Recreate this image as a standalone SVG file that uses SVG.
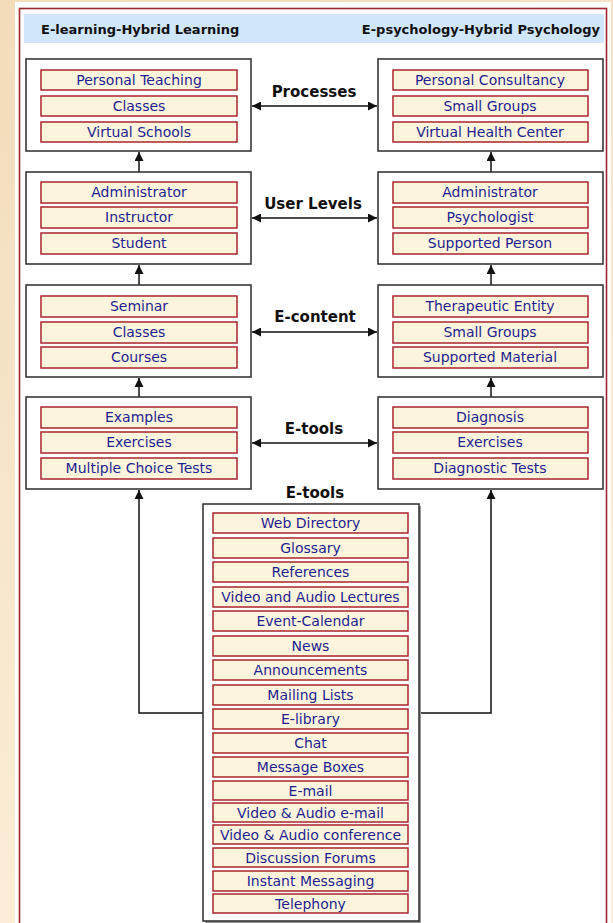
<svg xmlns="http://www.w3.org/2000/svg" width="613" height="923" viewBox="0 0 613 923">
  <defs>
    <linearGradient id="paper" x1="0" y1="0" x2="0.3" y2="1">
      <stop offset="0" stop-color="#f2dcba"/>
      <stop offset="0.5" stop-color="#f7e6cb"/>
      <stop offset="1" stop-color="#fcefd9"/>
    </linearGradient>
    <marker id="arrow" viewBox="0 0 10 10" refX="10" refY="5" markerWidth="9" markerHeight="9" markerUnits="userSpaceOnUse" orient="auto-start-reverse">
      <path d="M0,0 L10,5 L0,10 z" fill="#111"/>
    </marker>
    <style>
      .panel { fill: #2b2b2b; }
      .box { fill: #ffffff; stroke: #2b2b2b; stroke-width: 1.5; }
      .shadow { fill: #9a9a9a; }
      .item { fill: #fdf4dd; stroke: #a8262c; stroke-width: 1.5; }
      .itxt { font-family: "DejaVu Sans", Verdana, sans-serif; font-size: 14px; fill: #1f1f8f; text-anchor: middle; }
      .head { font-family: "DejaVu Sans", Verdana, sans-serif; font-size: 13px; font-weight: bold; fill: #111; }
      .lbl { font-family: "DejaVu Sans", Verdana, sans-serif; font-size: 15px; font-weight: bold; fill: #111; text-anchor: middle; }
      .link { fill: none; stroke: #111; stroke-width: 1.5; }
    </style>
  </defs>

  <!-- page background -->
  <rect x="0" y="0" width="613" height="923" fill="url(#paper)"/>
  <rect x="15" y="2" width="596" height="925" fill="#ffffff"/>
  <rect x="19.5" y="8.5" width="587" height="930" fill="none" stroke="#a2262e" stroke-width="1.6"/>

  <!-- header band -->
  <g id="header">
    <rect x="24" y="14" width="580" height="29" fill="#cfe6fb"/>
    <text class="head" x="41" y="34">E-learning-Hybrid Learning</text>
    <text class="head" x="600" y="34" text-anchor="end">E-psychology-Hybrid Psychology</text>
  </g>

  <!-- connectors -->
  <g id="connectors">
    <line class="link" x1="252" y1="106" x2="377" y2="106" marker-start="url(#arrow)" marker-end="url(#arrow)"/>
    <line class="link" x1="252" y1="218" x2="377" y2="218" marker-start="url(#arrow)" marker-end="url(#arrow)"/>
    <line class="link" x1="252" y1="332" x2="377" y2="332" marker-start="url(#arrow)" marker-end="url(#arrow)"/>
    <line class="link" x1="252" y1="443" x2="377" y2="443" marker-start="url(#arrow)" marker-end="url(#arrow)"/>

    <line class="link" x1="139" y1="172" x2="139" y2="152" marker-end="url(#arrow)"/>
    <line class="link" x1="139" y1="285" x2="139" y2="265" marker-end="url(#arrow)"/>
    <line class="link" x1="139" y1="397" x2="139" y2="378" marker-end="url(#arrow)"/>
    <line class="link" x1="491" y1="172" x2="491" y2="152" marker-end="url(#arrow)"/>
    <line class="link" x1="491" y1="285" x2="491" y2="265" marker-end="url(#arrow)"/>
    <line class="link" x1="491" y1="397" x2="491" y2="378" marker-end="url(#arrow)"/>

    <polyline class="link" points="203,713 139,713 139,490" marker-end="url(#arrow)"/>
    <polyline class="link" points="419,713 491,713 491,490" marker-end="url(#arrow)"/>

    <text class="lbl" x="314" y="97">Processes</text>
    <text class="lbl" x="313" y="209">User Levels</text>
    <text class="lbl" x="315" y="322">E-content</text>
    <text class="lbl" x="314" y="434">E-tools</text>
  </g>

  <!-- left column -->
  <g id="learning-processes">
    <rect class="box" x="26" y="59" width="225" height="92"/>
    <rect class="item" x="41" y="70" width="196" height="20"/><text class="itxt" x="139" y="85">Personal Teaching</text>
    <rect class="item" x="41" y="96" width="196" height="20"/><text class="itxt" x="139" y="111">Classes</text>
    <rect class="item" x="41" y="122" width="196" height="20"/><text class="itxt" x="139" y="137">Virtual Schools</text>
  </g>
  <g id="learning-users">
    <rect class="box" x="26" y="172" width="225" height="92"/>
    <rect class="item" x="41" y="182" width="196" height="21"/><text class="itxt" x="139" y="197">Administrator</text>
    <rect class="item" x="41" y="207" width="196" height="21"/><text class="itxt" x="139" y="222">Instructor</text>
    <rect class="item" x="41" y="233" width="196" height="21"/><text class="itxt" x="139" y="248">Student</text>
  </g>
  <g id="learning-content">
    <rect class="box" x="26" y="285" width="225" height="92"/>
    <rect class="item" x="41" y="296" width="196" height="21"/><text class="itxt" x="139" y="311">Seminar</text>
    <rect class="item" x="41" y="322" width="196" height="21"/><text class="itxt" x="139" y="337">Classes</text>
    <rect class="item" x="41" y="347" width="196" height="21"/><text class="itxt" x="139" y="362">Courses</text>
  </g>
  <g id="learning-tools">
    <rect class="box" x="26" y="397" width="225" height="92"/>
    <rect class="item" x="41" y="407" width="196" height="21"/><text class="itxt" x="139" y="422">Examples</text>
    <rect class="item" x="41" y="432" width="196" height="21"/><text class="itxt" x="139" y="447">Exercises</text>
    <rect class="item" x="41" y="458" width="196" height="21"/><text class="itxt" x="139" y="473">Multiple Choice Tests</text>
  </g>

  <!-- right column -->
  <g id="psychology-processes">
    <rect class="box" x="378" y="59" width="225" height="92"/>
    <rect class="item" x="393" y="70" width="195" height="20"/><text class="itxt" x="490" y="85">Personal Consultancy</text>
    <rect class="item" x="393" y="96" width="195" height="20"/><text class="itxt" x="490" y="111">Small Groups</text>
    <rect class="item" x="393" y="122" width="195" height="20"/><text class="itxt" x="490" y="137">Virtual Health Center</text>
  </g>
  <g id="psychology-users">
    <rect class="box" x="378" y="172" width="225" height="92"/>
    <rect class="item" x="393" y="182" width="195" height="21"/><text class="itxt" x="490" y="197">Administrator</text>
    <rect class="item" x="393" y="207" width="195" height="21"/><text class="itxt" x="490" y="222">Psychologist</text>
    <rect class="item" x="393" y="233" width="195" height="21"/><text class="itxt" x="490" y="248">Supported Person</text>
  </g>
  <g id="psychology-content">
    <rect class="box" x="378" y="285" width="225" height="92"/>
    <rect class="item" x="393" y="296" width="195" height="21"/><text class="itxt" x="490" y="311">Therapeutic Entity</text>
    <rect class="item" x="393" y="322" width="195" height="21"/><text class="itxt" x="490" y="337">Small Groups</text>
    <rect class="item" x="393" y="347" width="195" height="21"/><text class="itxt" x="490" y="362">Supported Material</text>
  </g>
  <g id="psychology-tools">
    <rect class="box" x="378" y="397" width="225" height="92"/>
    <rect class="item" x="393" y="407" width="195" height="21"/><text class="itxt" x="490" y="422">Diagnosis</text>
    <rect class="item" x="393" y="432" width="195" height="21"/><text class="itxt" x="490" y="447">Exercises</text>
    <rect class="item" x="393" y="458" width="195" height="21"/><text class="itxt" x="490" y="473">Diagnostic Tests</text>
  </g>

  <!-- shared tools -->
  <g id="shared-tools">
    <text class="lbl" x="315" y="498">E-tools</text>
    <rect class="shadow" x="205" y="506" width="216" height="417"/>
    <rect class="box" x="203" y="504" width="216" height="417"/>
    <rect class="item" x="213" y="513" width="195" height="20"/><text class="itxt" x="310.5" y="528">Web Directory</text>
    <rect class="item" x="213" y="538" width="195" height="20"/><text class="itxt" x="310.5" y="553">Glossary</text>
    <rect class="item" x="213" y="562" width="195" height="20"/><text class="itxt" x="310.5" y="577">References</text>
    <rect class="item" x="213" y="587" width="195" height="20"/><text class="itxt" x="310.5" y="602">Video and Audio Lectures</text>
    <rect class="item" x="213" y="611" width="195" height="20"/><text class="itxt" x="310.5" y="626">Event-Calendar</text>
    <rect class="item" x="213" y="636" width="195" height="20"/><text class="itxt" x="310.5" y="651">News</text>
    <rect class="item" x="213" y="660" width="195" height="20"/><text class="itxt" x="310.5" y="675">Announcements</text>
    <rect class="item" x="213" y="685" width="195" height="20"/><text class="itxt" x="310.5" y="700">Mailing Lists</text>
    <rect class="item" x="213" y="709" width="195" height="20"/><text class="itxt" x="310.5" y="724">E-library</text>
    <rect class="item" x="213" y="733" width="195" height="20"/><text class="itxt" x="310.5" y="748">Chat</text>
    <rect class="item" x="213" y="757" width="195" height="20"/><text class="itxt" x="310.5" y="772">Message Boxes</text>
    <rect class="item" x="213" y="781" width="195" height="19"/><text class="itxt" x="310.5" y="796">E-mail</text>
    <rect class="item" x="213" y="803" width="195" height="19"/><text class="itxt" x="310.5" y="818">Video &amp; Audio e-mail</text>
    <rect class="item" x="213" y="825" width="195" height="19"/><text class="itxt" x="310.5" y="840">Video &amp; Audio conference</text>
    <rect class="item" x="213" y="848" width="195" height="19"/><text class="itxt" x="310.5" y="863">Discussion Forums</text>
    <rect class="item" x="213" y="871" width="195" height="20"/><text class="itxt" x="310.5" y="886">Instant Messaging</text>
    <rect class="item" x="213" y="894" width="195" height="19"/><text class="itxt" x="310.5" y="909">Telephony</text>
  </g>
</svg>
